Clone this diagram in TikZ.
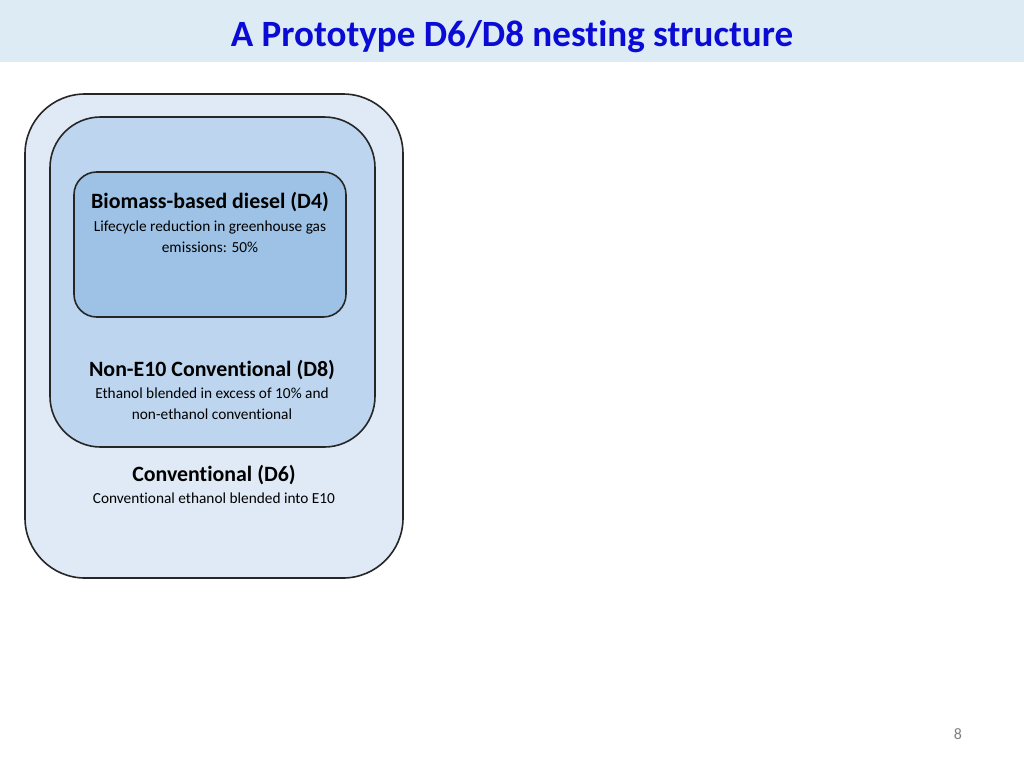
\documentclass[tikz,border=0pt]{standalone}
\usepackage{fontspec}
\setmainfont[RawFeature=-liga]{Carlito}
\definecolor{hdr}{HTML}{DDEBF5}
\definecolor{ttl}{HTML}{0B0BD6}
\definecolor{outerf}{HTML}{DFEAF6}
\definecolor{midf}{HTML}{BDD5EE}
\definecolor{innf}{HTML}{9DC2E5}
\definecolor{edge}{HTML}{262626}
\tikzset{
  boxline/.style={draw=edge, line width=1.2pt},
  headtxt/.style={font=\fontsize{16.4}{19}\selectfont\bfseries, text=black, anchor=center},
  bodytxt/.style={font=\fontsize{11.5}{15.5}\selectfont, text=black, align=center, anchor=north},
}
\begin{document}
\begin{tikzpicture}[x=0.75pt,y=-0.75pt]
\useasboundingbox (0,0) rectangle (1024,768);
\fill[white] (0,0) rectangle (1024,768);
\fill[hdr] (0,0) rectangle (1024,62);
\node[font=\fontsize{27.8}{32}\selectfont\bfseries, text=ttl] (title) at (512,37) {A Prototype D6/D8 nesting structure};
\draw[boxline, fill=outerf, rounded corners=45pt] (25,94) rectangle (403,578);
\draw[boxline, fill=midf, rounded corners=38pt] (50,117) rectangle (375,447);
\draw[boxline, fill=innf, rounded corners=17pt] (74,172) rectangle (346,317);
\node[headtxt] (d4) at (210,202) {Biomass-based diesel (D4)};
\node[bodytxt] (d4t) at (210,216) {Lifecycle reduction in greenhouse gas\\emissions: 50\%};
\node[headtxt] (d8) at (212,370) {Non-E10 Conventional (D8)};
\node[bodytxt] (d8t) at (212,383) {Ethanol blended in excess of 10\% and\\non-ethanol conventional};
\node[headtxt] (d6) at (214,475) {Conventional (D6)};
\node[bodytxt] (d6t) at (214,488) {Conventional ethanol blended into E10};
\node[font=\fontsize{12}{14}\selectfont, text=gray] (pg) at (958,734) {8};
\end{tikzpicture}
\end{document}
